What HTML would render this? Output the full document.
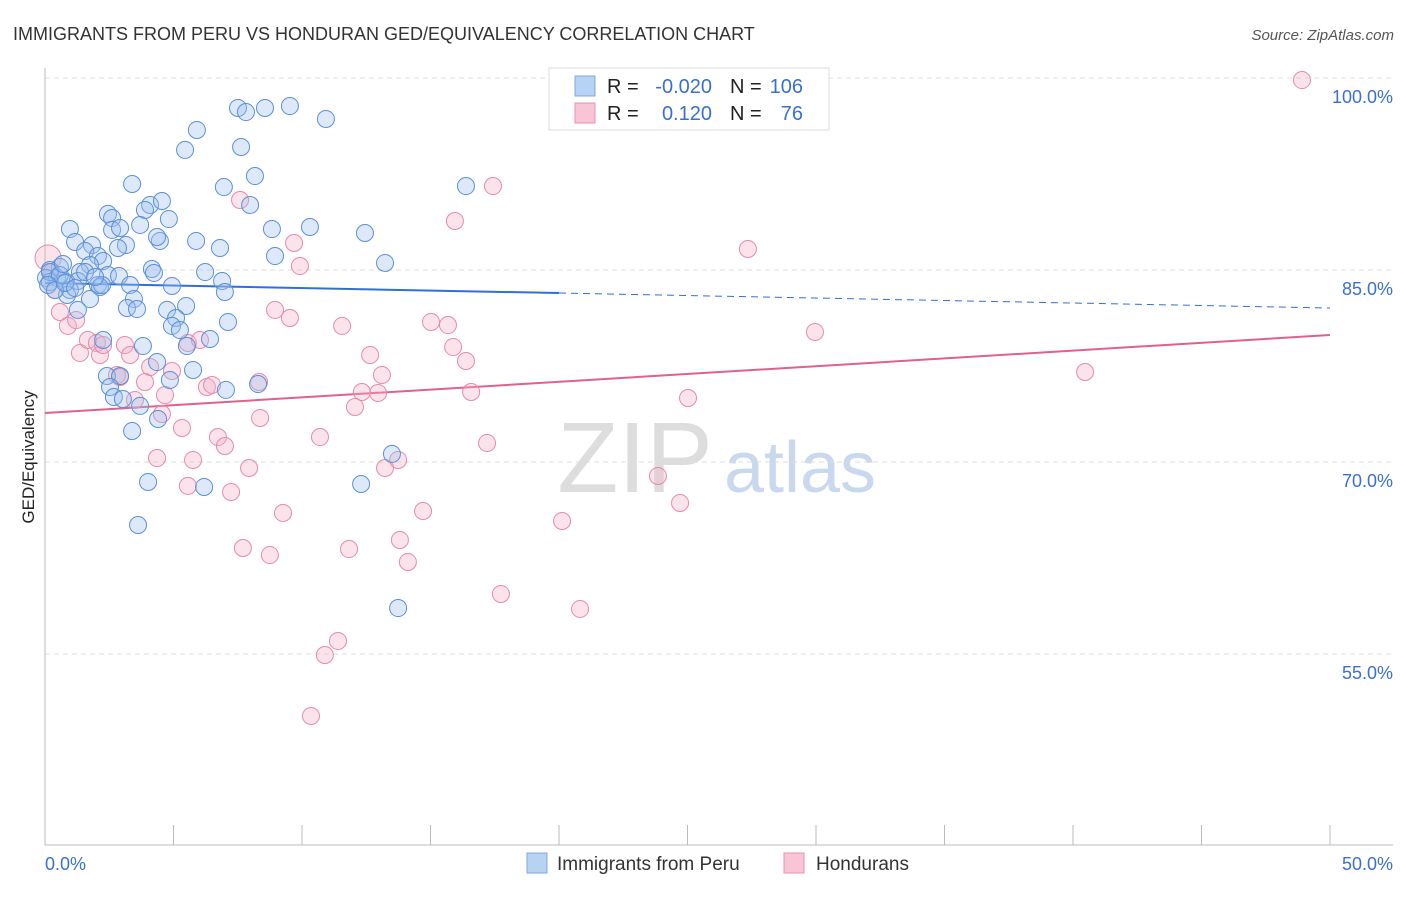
<!DOCTYPE html>
<html><head><meta charset="utf-8"><style>
body{margin:0;background:#fff;font-family:"Liberation Sans",sans-serif;}
svg text{font-family:"Liberation Sans",sans-serif;}
</style></head><body>
<svg id="chart" width="1406" height="892" xmlns="http://www.w3.org/2000/svg">
<text x="13" y="40" font-size="18" fill="#333">IMMIGRANTS FROM PERU VS HONDURAN GED/EQUIVALENCY CORRELATION CHART</text>
<text x="1394" y="40" font-size="15" fill="#555" font-style="italic" text-anchor="end">Source: ZipAtlas.com</text>
<text transform="translate(34,457) rotate(-90)" font-size="17" fill="#222" text-anchor="middle">GED/Equivalency</text>
<g>
<text x="635" y="492" font-size="100" fill="#ddd" font-family="Liberation Serif" text-anchor="middle">ZIP</text>
<text x="800" y="492" font-size="72" fill="#c8d8ee" text-anchor="middle">atlas</text>
</g>
<g id="grid"></g><g id="axes"></g><g id="trends"></g><g id="pts"></g>
<g>
<rect x="549" y="68" width="280" height="62" fill="#fff" stroke="#ddd"/>
<rect x="575" y="76" width="20" height="20" fill="#b8d2f4" stroke="#7fa8e0"/>
<rect x="575" y="103" width="20" height="20" fill="#f8c4d6" stroke="#e890b0"/>
<text x="607" y="93" font-size="20" fill="#222">R =</text>
<text x="712" y="93" font-size="20" fill="#3a6fd0" text-anchor="end">-0.020</text>
<text x="730" y="93" font-size="20" fill="#222">N =</text>
<text x="803" y="93" font-size="20" fill="#3a6fd0" text-anchor="end">106</text>
<text x="607" y="120" font-size="20" fill="#222">R =</text>
<text x="712" y="120" font-size="20" fill="#3a6fd0" text-anchor="end">0.120</text>
<text x="730" y="120" font-size="20" fill="#222">N =</text>
<text x="803" y="120" font-size="20" fill="#3a6fd0" text-anchor="end">76</text>
</g>
<g>
<rect x="527" y="853" width="20" height="20" fill="#b8d2f4" stroke="#7fa8e0"/>
<text x="557" y="870" font-size="19" fill="#333">Immigrants from Peru</text>
<rect x="784" y="853" width="20" height="20" fill="#f8c4d6" stroke="#e890b0"/>
<text x="816" y="870" font-size="19" fill="#333">Hondurans</text>
</g>
</svg>
<script>
const blueX=[8.56,7.51,7.82,9.53,10.93,5.91,5.45,7.63,8.17,6.96,3.39,16.38,7.98,4.09,4.55,3.89,2.45,2.61,4.82,3.70,2.61,0.97,2.92,10.31,12.45,8.83,1.17,1.83,3.15,5.88,4.47,4.36,6.81,2.84,1.56,2.06,2.26,8.95,13.23,1.75,0.58,0.19,4.16,4.24,1.36,2.45,2.88,6.23,6.89,0.04,0.47,0.82,1.28,2.06,2.14,4.94,3.31,0.19,0.97,1.75,3.46,5.49,0.86,3.19,3.58,4.75,5.10,4.94,5.25,7.12,1.28,6.42,5.52,2.26,3.81,4.36,5.76,2.41,2.92,7.04,8.29,4.86,2.53,2.68,3.03,3.70,4.40,3.39,13.50,4.01,6.19,12.30,3.62,13.74,0.19,0.58,0.12,0.39,0.78,2.22,1.56,1.17,1.95,0.70,7.00];
const blueY=[97.66,97.66,97.34,97.81,96.80,95.94,94.38,94.61,92.34,91.48,91.72,91.56,90.08,90.08,90.39,89.69,89.38,89.06,88.98,88.52,88.13,88.20,88.28,88.36,87.89,88.20,87.19,86.95,86.95,87.27,87.27,87.58,86.72,86.72,86.48,86.09,85.70,86.09,85.55,85.39,85.23,85.00,85.08,84.77,84.84,84.61,84.53,84.84,84.14,84.38,84.38,84.06,84.14,83.83,83.67,83.75,83.83,84.06,83.44,82.73,82.73,82.19,83.05,82.03,81.95,81.88,81.25,80.63,80.31,80.94,81.88,79.61,79.06,79.53,79.06,77.81,77.19,76.72,76.72,75.63,76.09,76.41,75.86,75.08,74.92,74.38,73.36,72.42,70.63,68.44,68.05,68.28,65.08,58.59,84.84,84.61,83.83,83.44,83.98,83.83,84.84,83.59,84.45,85.47,83.28];
const pinkX=[48.91,28.17,17.43,15.95,7.59,9.69,9.92,27.35,0.12,0.27,0.39,0.58,0.89,1.36,1.67,2.02,2.14,2.26,3.11,3.31,8.95,9.53,11.56,15.02,15.68,29.96,12.65,15.88,16.38,5.56,6.03,4.09,4.94,2.80,2.92,3.89,4.67,8.33,6.30,6.50,13.11,12.96,12.33,16.58,25.02,40.47,8.37,12.06,3.50,4.55,5.33,6.73,7.00,10.70,17.20,4.36,5.76,7.94,13.23,13.74,23.85,5.56,7.24,24.71,9.26,14.71,20.12,7.70,8.75,11.83,13.81,14.12,17.74,20.82,11.40,10.89,10.35,1.21];
const pinkY=[99.84,99.84,91.56,88.83,90.47,87.11,85.31,86.64,85.94,84.84,83.44,81.72,80.63,78.52,79.53,79.30,78.36,79.14,79.14,78.36,81.88,81.25,80.63,80.94,80.70,80.16,78.36,78.98,77.89,79.30,79.53,77.42,77.11,76.80,76.64,76.25,75.23,76.25,75.86,76.02,76.80,75.39,75.47,75.47,75.00,77.03,73.44,74.30,74.84,73.75,72.66,71.95,71.25,71.95,71.48,70.31,70.16,69.53,69.53,70.16,68.91,68.13,67.66,66.80,66.02,66.17,65.39,63.28,62.73,63.20,63.91,62.19,59.69,58.52,56.02,54.92,50.16,81.09];
const yTicks=[100,85,70,55];
const yTickLabels=["100.0%","85.0%","70.0%","55.0%"];
const blueTrend=[83.98,82.03];
const pinkTrend=[73.83,79.92];
const NS="http://www.w3.org/2000/svg";
const sx=v=>45+v*25.7, sy=v=>78+(100-v)*12.8;
function mk(tag,attrs,parent){const e=document.createElementNS(NS,tag);for(const k in attrs)e.setAttribute(k,attrs[k]);document.getElementById(parent).appendChild(e);return e;}
yTicks.forEach((t,i)=>{
 const g=mk('line',{x1:45,x2:1393,y1:sy(t),y2:sy(t),stroke:'#ddd','stroke-dasharray':'5,4'},'grid');
 
 
 const l=mk('text',{x:1393,y:sy(t)+25,'font-size':18,fill:'#3a6fd0','text-anchor':'end'},'grid');
 l.textContent=yTickLabels[i];
 
 
});
const ax=mk('line',{x1:45,x2:1393,y1:845,y2:845,stroke:'#bbb'},'axes');


const ay=mk('line',{x1:45,x2:45,y1:68,y2:845,stroke:'#bbb'},'axes');


for(let i=0;i<=10;i++){const t=mk('line',{x1:sx(i*5),x2:sx(i*5),y1:825,y2:845,stroke:'#bbb'},'axes');
 
 }
[["0.0%",45,'start'],["50.0%",1393,'end']].forEach(a=>{const t=mk('text',{x:a[1],y:870,'font-size':18,fill:'#3a6fd0','text-anchor':a[2]},'axes');t.textContent=a[0];
 
 });
const by=x=>blueTrend[0]+(blueTrend[1]-blueTrend[0])*x/50;
const b1=mk('line',{x1:sx(0),y1:sy(by(0)),x2:sx(20),y2:sy(by(20)),stroke:'#2f6fd8','stroke-width':2},'trends');


const b2=mk('line',{x1:sx(20),y1:sy(by(20)),x2:sx(50),y2:sy(by(50)),stroke:'#2f6fd8','stroke-width':1,'stroke-dasharray':'7,5'},'trends');


const p1=mk('line',{x1:sx(0),y1:sy(pinkTrend[0]),x2:sx(50),y2:sy(pinkTrend[1]),stroke:'#e0608e','stroke-width':2},'trends');


pinkX.forEach((x,i)=>{const c=mk('circle',{cx:sx(x),cy:sy(pinkY[i]),r:i==8?13:8.5,fill:'#f4b0c8','fill-opacity':0.35,stroke:'#e58aab','stroke-width':1},'pts');
 
 });
blueX.forEach((x,i)=>{const c=mk('circle',{cx:sx(x),cy:sy(blueY[i]),r:8.5,fill:'#9ec0ee','fill-opacity':0.35,stroke:'#5b8fd8','stroke-width':1},'pts');
 
 });
</script>
</body></html>
